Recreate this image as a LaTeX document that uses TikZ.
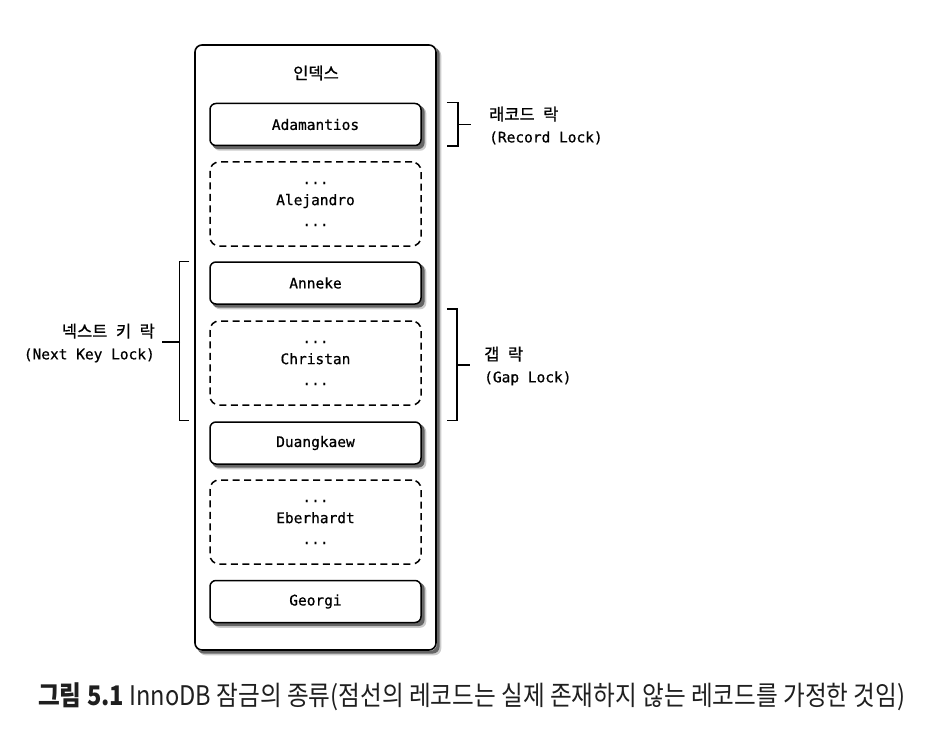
\documentclass[tikz,border=0pt]{standalone}
\usepackage{fontspec}
\usepackage{graphicx}
\setmonofont[FakeBold=0.7]{DejaVu Sans Mono}
\newfontfamily\kr[FakeBold=0.8]{Noto Sans CJK KR}
\newfontfamily\krcap{Noto Sans CJK KR}
\usetikzlibrary{calc,backgrounds}
\tikzset{
  rec/.style={draw=black, line width=1.5pt, rounded corners=6pt, fill=white,
    minimum width=211pt, minimum height=42pt, inner sep=0pt,
    font=\ttfamily\fontsize{14.5}{16}\selectfont},
  gaprec/.style={draw=black, line width=1.5pt, rounded corners=9pt, dash pattern=on 7pt off 4.5pt,
    minimum width=211pt, minimum height=84pt, inner sep=0pt, align=center,
    font=\ttfamily\fontsize{14.5}{21}\selectfont},
  outer/.style={draw=black, line width=1.6pt, rounded corners=7pt,
    minimum width=241pt, minimum height=605pt, inner sep=0pt},
  brk/.style={draw=black, line width=1.5pt},
  lbl/.style={inner sep=0pt, align=left, font=\ttfamily\fontsize{14.5}{22}\selectfont},
  krl/.style={font=\kr\fontsize{16.5}{18}\selectfont},
  shadA/.style={fill=black!20, rounded corners=#1},
  shadB/.style={fill=black!60, rounded corners=#1},
}
\newcommand{\krsp}{\hspace{8.5pt}}
\newcommand{\boxshadow}[2]{%
  \fill[shadA=#2] ($(#1.north west)+(4.5,4.5)$) rectangle ($(#1.south east)+(4.5,4.5)$);
  \fill[shadB=#2] ($(#1.north west)+(2.8,2.8)$) rectangle ($(#1.south east)+(2.8,2.8)$);}
\begin{document}
\begin{tikzpicture}[x=1pt,y=-1pt]
\useasboundingbox (0,0) rectangle (944,754);

\node[outer] (idx) at (315.5,347.5) {};
\node[inner sep=0pt, krl] (title) at (316,73) {인덱스};

\node[rec] (adam) at (315.5,124.5) {Adamantios};
\node[gaprec] (alej) at (315.5,204) {...\\Alejandro\\...};
\node[rec] (anne) at (315.5,283) {Anneke};
\node[gaprec] (chri) at (315.5,363) {...\\Christan\\...};
\node[rec] (duan) at (315.5,443) {Duangkaew};
\node[gaprec] (eber) at (315.5,522) {...\\Eberhardt\\...};
\node[rec] (geor) at (315.5,601.5) {Georgi};

\begin{scope}[on background layer]
  \fill[white] (0,0) rectangle (944,754);
  \boxshadow{idx}{7pt}
  \fill[white, rounded corners=7pt] (idx.north west) rectangle (idx.south east);
  \boxshadow{adam}{6pt}
  \boxshadow{anne}{6pt}
  \boxshadow{duan}{6pt}
  \boxshadow{geor}{6pt}
\end{scope}

% record lock bracket
\coordinate (rlt) at ($(adam.north east)+(25,0)$);
\coordinate (rlb) at ($(adam.south east)+(25,0)$);
\draw[brk] (rlt) -- ++(11,0) coordinate (rlt2) -- ($(rlb)+(11,0)$) -- (rlb);
\draw[brk] ($(adam.east)+(36,0)$) -- ++(13,0) coordinate (rlm);
\node[lbl, anchor=west] (rl) at (489,125.5) {{\kr\fontsize{16.5}{18}\selectfont 래코드\krsp 락}\\(Record Lock)};

% next key lock bracket
\coordinate (nkt) at ($(anne.north west)+(-20,0)$);
\coordinate (nkb) at ($(duan.north west)+(-20,-1)$);
\draw[brk] (nkt) -- ++(-10,0) -- ($(nkb)+(-10,0)$) -- (nkb);
\draw[brk] (180,342) -- (162,342) coordinate (nkm);
\node[lbl, anchor=east, align=right] (nk) at (155,343) {{\kr\fontsize{16.5}{18}\selectfont 넥스트\krsp 키\krsp 락}\\(Next Key Lock)};

% gap lock bracket
\coordinate (glt) at ($(anne.south east)+(25,4)$);
\coordinate (glb) at ($(duan.north east)+(25,-1)$);
\draw[brk] (glt) -- ++(10,0) -- ($(glb)+(10,0)$) -- (glb);
\draw[brk] (456,365) -- (470,365) coordinate (glm);
\node[lbl, anchor=west] (gl) at (484,366) {{\kr\fontsize{16.5}{18}\selectfont 갭\krsp 락}\\(Gap Lock)};

% caption
\node[inner sep=0pt, anchor=west, text=black!88] (cap) at (38,697)
  {\resizebox{867pt}{\height}{\krcap\fontsize{27}{29}\selectfont\textbf{그림 5.1} InnoDB 잠금의 종류(점선의 레코드는 실제 존재하지 않는 레코드를 가정한 것임)}};
\end{tikzpicture}
\end{document}
